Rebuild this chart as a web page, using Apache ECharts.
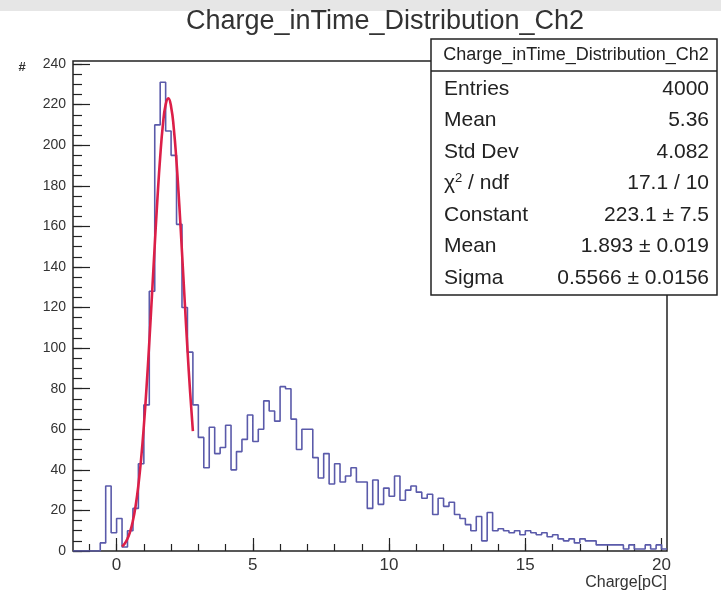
<!DOCTYPE html>
<html><head><meta charset="utf-8">
<script src="https://cdn.jsdelivr.net/npm/echarts@6/dist/echarts.min.js"></script>
<style>html,body{margin:0;padding:0;background:#fff}#c{width:721px;height:599px}</style>
</head><body><div id="c"></div>
<script>
const titleText = 'Charge_inTime_Distribution_Ch2';
const xTitle = 'Charge[pC]';
const yTitle = '#';
const binStart = -1.6;
const binWidth = 0.2;
const counts = [0,0,0,0,0,4,32,9,16,2,10,21,43,72,128,210,231,207,195,161,120,98,72,56,41,61,48,51,62,40,49,55,67,54,60,74,69,64,81,80,65,50,60,60,46,36,48,33,43,34,37,41,34,34,21,35,23,31,27,37,25,30,32,29,26,28,18,26,22,24,18,16,13,10,17,5,19,10,11,10,9,10,8,10,9,8,9,7,8,6,5,6,4,6,5,5,3,3,3,3,3,1,3,1,1,3,1,3,1];
const fitX = [0.2,0.3,0.4,0.5,0.6,0.7,0.8,0.9,1.0,1.1,1.2,1.3,1.4,1.5,1.6,1.7,1.8,1.9,2.0,2.1,2.2,2.3,2.4,2.5,2.6,2.7,2.8];
const fitY = [2.2,3.7,6.1,9.7,15.0,22.4,32.4,45.4,61.6,80.9,102.8,126.5,150.7,173.9,194.2,210.1,220.0,223.1,219.0,208.2,191.6,170.8,147.3,123.1,99.6,78.0,59.1];
const xMajorTicks = [0,5,10,15,20];
const xMinorTicks = [-1,0,1,2,3,4,5,6,7,8,9,10,11,12,13,14,15,16,17,18,19,20];
const yMajorTicks = [0,20,40,60,80,100,120,140,160,180,200,220,240];
const yMinorTicks = [0,5,10,15,20,25,30,35,40,45,50,55,60,65,70,75,80,85,90,95,100,105,110,115,120,125,130,135,140,145,150,155,160,165,170,175,180,185,190,195,200,205,210,215,220,225,230,235,240];
const statsTitle = 'Charge_inTime_Distribution_Ch2';
const statsLabels = ['Entries','Mean','Std Dev','{n|χ}{s|2}{n| / ndf}','Constant','Mean','Sigma'];
const statsValues = ['4000','5.36','4.082','17.1 / 10','223.1 ± 7.5','1.893 ± 0.019','0.5566 ± 0.0156'];

const X_MIN = -1.6, X_MAX = 20.2, Y_MAX = 241.5;
const FONT = '"Liberation Sans", Arial, sans-serif';
const INK = '#222';

const histData = counts.map((c, i) => [+(binStart + i * binWidth).toFixed(3), c]);
histData.push([+(binStart + counts.length * binWidth).toFixed(3), counts[counts.length - 1]]);
const fitData = fitX.map((x, i) => [x, fitY[i]]);

const chart = echarts.init(document.getElementById('c'), null, {renderer: 'canvas'});

const statsEls = [];
const box = {x: 431, y: 39, w: 286, h: 256, head: 71};
statsEls.push({type: 'rect', shape: {x: box.x, y: box.y, width: box.w, height: box.h}, style: {fill: '#fff', stroke: INK, lineWidth: 1.5}, z: 100});
statsEls.push({type: 'line', shape: {x1: box.x, y1: box.head, x2: box.x + box.w, y2: box.head}, style: {stroke: INK, lineWidth: 1.5}, z: 101});
statsEls.push({type: 'text', x: box.x + box.w / 2 + 2, y: 55, z: 101, style: {text: statsTitle, font: '18px ' + FONT, fill: INK, align: 'center', verticalAlign: 'middle'}});
statsLabels.forEach((lab, i) => {
  const yy = 89 + i * 31.5;
  statsEls.push({type: 'text', x: 444, y: yy, z: 101, style: {text: lab, font: '21px ' + FONT, fill: INK, align: 'left', verticalAlign: 'middle',
    rich: {n: {font: '21px ' + FONT, fill: INK}, s: {font: '13px ' + FONT, fill: INK, verticalAlign: 'top', padding: [0, 0, 10, 0]}}}});
  statsEls.push({type: 'text', x: 709, y: yy, z: 101, style: {text: statsValues[i], font: '21px ' + FONT, fill: INK, align: 'right', verticalAlign: 'middle'}});
});

const option = {
  backgroundColor: '#fff',
  animation: false,
  grid: {left: 73, top: 61, right: 54, bottom: 48, show: true, borderColor: INK, borderWidth: 1.5, backgroundColor: 'transparent'},
  xAxis: [
    {type: 'value', min: X_MIN, max: X_MAX, position: 'bottom',
      axisLine: {show: false, onZero: false}, splitLine: {show: false},
      axisTick: {show: true, inside: true, length: 13, customValues: xMajorTicks, lineStyle: {color: INK, width: 1.2}},
      axisLabel: {show: true, customValues: xMajorTicks, fontSize: 17, color: '#333', margin: 6, fontFamily: FONT}},
    {type: 'value', min: X_MIN, max: X_MAX, position: 'top', offset: -490,
      axisLine: {show: false, onZero: false}, splitLine: {show: false},
      axisTick: {show: true, inside: false, length: 7, customValues: xMinorTicks, lineStyle: {color: INK, width: 1.2}},
      axisLabel: {show: false}}
  ],
  yAxis: [
    {type: 'value', min: 0, max: Y_MAX, position: 'left',
      axisLine: {show: false, onZero: false}, splitLine: {show: false},
      axisTick: {show: true, inside: true, length: 17, customValues: yMajorTicks, lineStyle: {color: INK, width: 1.2}},
      axisLabel: {show: true, customValues: yMajorTicks, fontSize: 14, color: '#333', margin: 7, fontFamily: FONT}},
    {type: 'value', min: 0, max: Y_MAX, position: 'right', offset: -594,
      axisLine: {show: false, onZero: false}, splitLine: {show: false},
      axisTick: {show: true, inside: false, length: 9, customValues: yMinorTicks, lineStyle: {color: INK, width: 1.2}},
      axisLabel: {show: false}}
  ],
  series: [
    {type: 'line', name: 'hist', xAxisIndex: 0, yAxisIndex: 0, step: 'end', symbol: 'none', data: histData,
      lineStyle: {color: '#5a5aaa', width: 1.6}, z: 3},
    {type: 'line', name: 'fit', xAxisIndex: 0, yAxisIndex: 0, smooth: true, symbol: 'none', data: fitData,
      lineStyle: {color: '#dc1f48', width: 2.6}, z: 4}
  ],
  graphic: [
    {type: 'rect', shape: {x: 0, y: 0, width: 721, height: 11}, style: {fill: '#e6e6e6'}, z: 0},
    {type: 'text', x: 385, y: 22, style: {text: titleText, font: '27px ' + FONT, fill: '#333', align: 'center', verticalAlign: 'middle'}, z: 50},
    {type: 'text', x: 22, y: 67, style: {text: yTitle, font: 'bold 13px ' + FONT, fill: '#333', align: 'center', verticalAlign: 'middle'}, z: 50},
    {type: 'text', x: 667, y: 583, style: {text: xTitle, font: '16px ' + FONT, fill: '#333', align: 'right', verticalAlign: 'middle'}, z: 50},
    {type: 'group', children: statsEls, z: 100}
  ]
};
chart.setOption(option);
</script>
</body></html>
